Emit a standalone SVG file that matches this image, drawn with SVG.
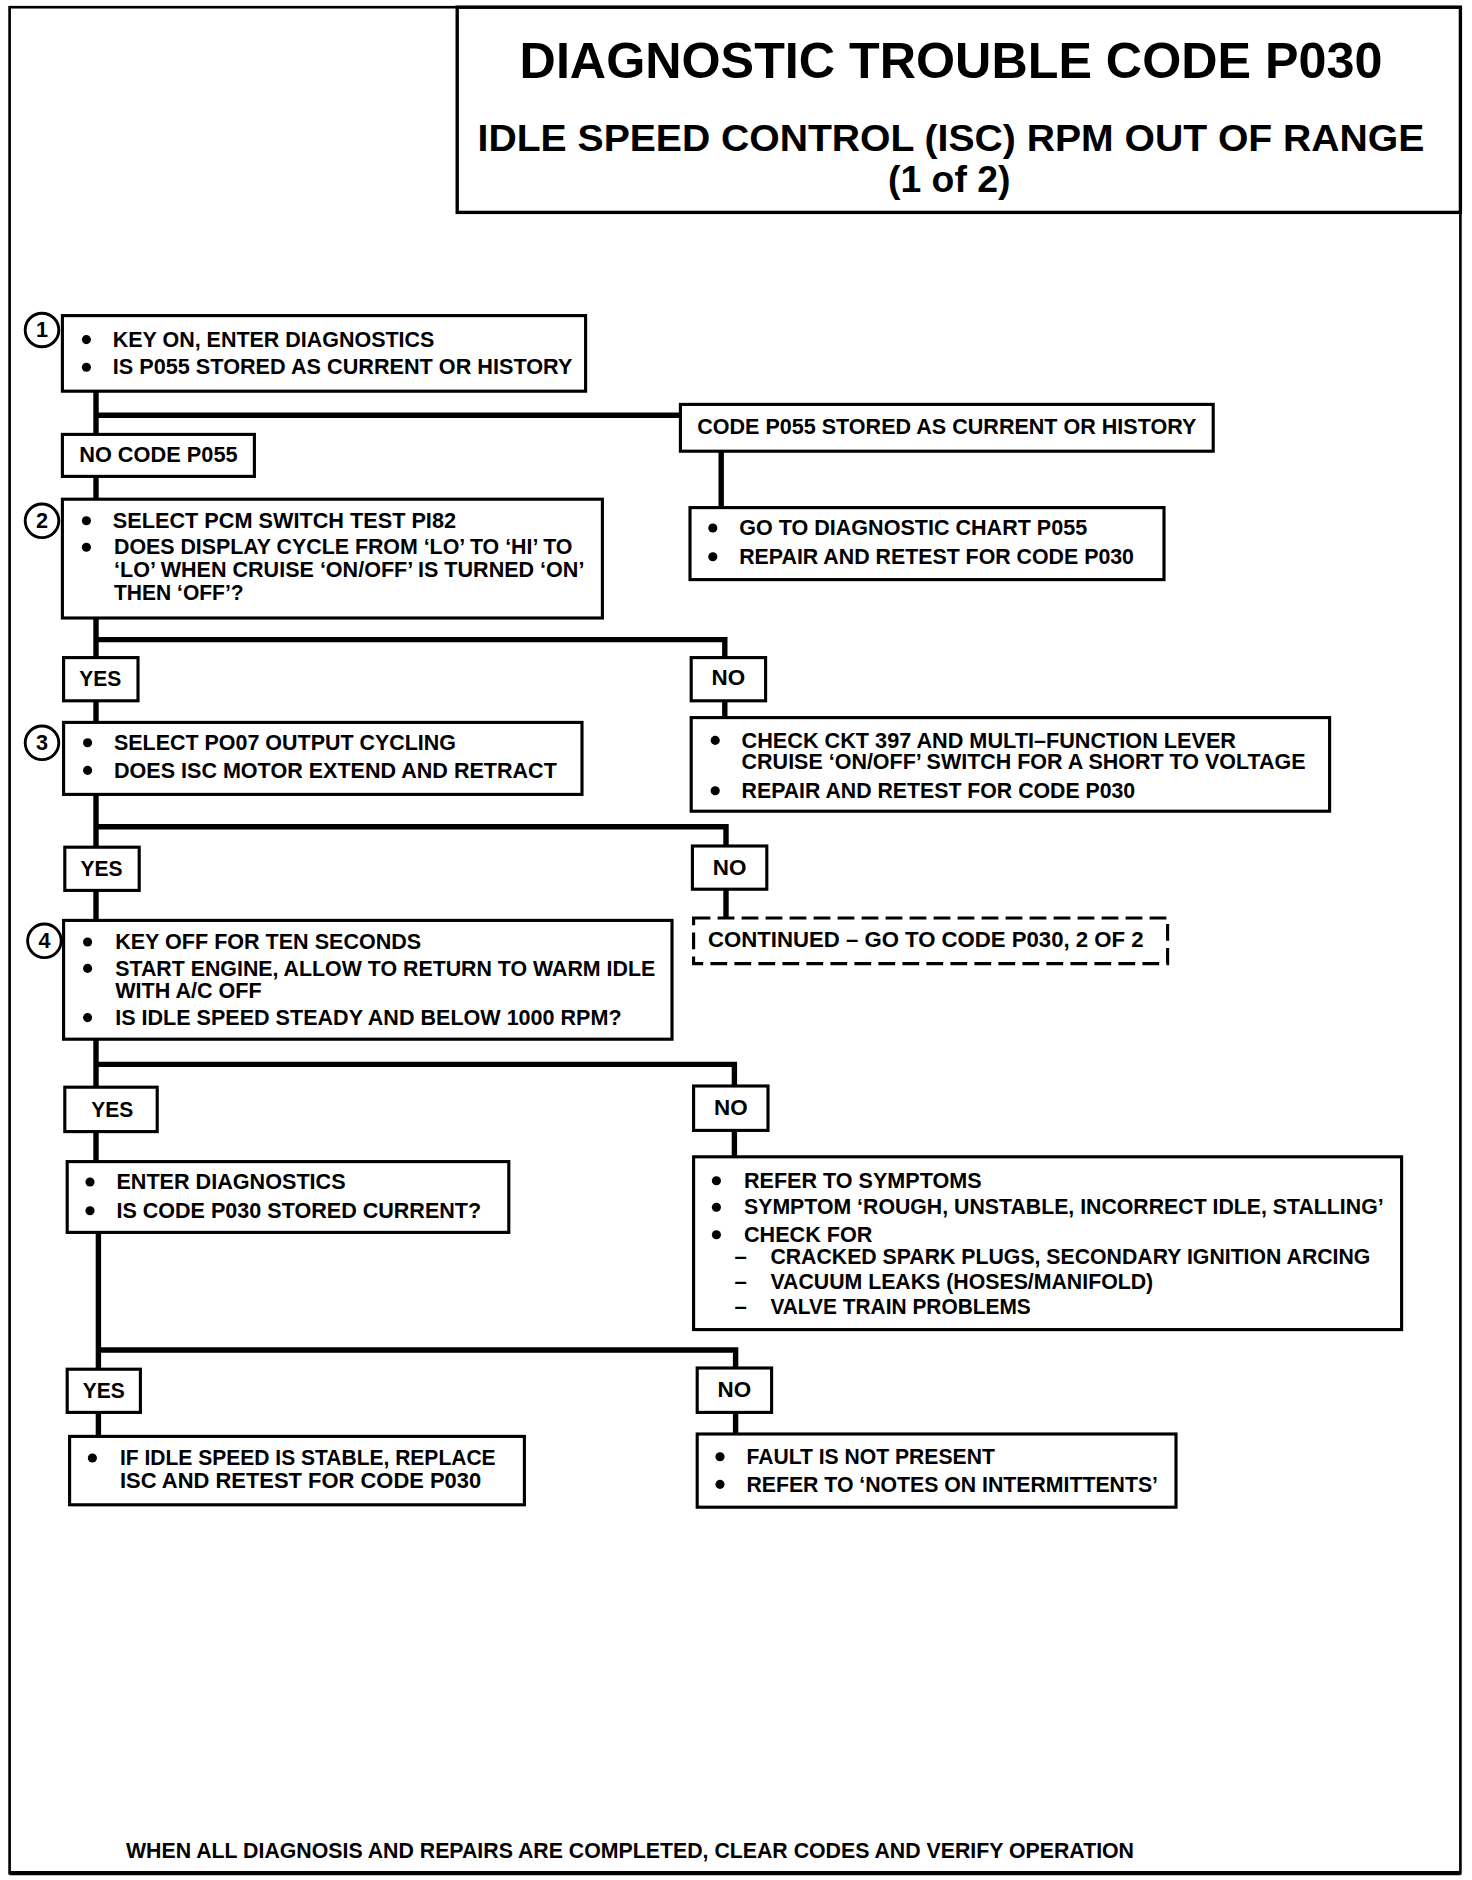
<svg xmlns="http://www.w3.org/2000/svg" width="1472" height="1880" viewBox="0 0 1472 1880">
<style>
.bg{fill:#fff}
.frame{fill:none;stroke:#000;stroke-width:2.2}
.box{fill:#fff;stroke:#000;stroke-width:2.6}
.dash{fill:#fff;stroke:#000;stroke-width:2.6;stroke-dasharray:14 6}
.conn{fill:none;stroke:#000;stroke-width:4.5;stroke-linejoin:miter}
.t{font-family:"Liberation Sans",Arial,sans-serif;font-weight:bold;font-size:18.5px;fill:#000}
.h1{font-family:"Liberation Sans",Arial,sans-serif;font-weight:bold;font-size:41px;fill:#000}
.h2{font-family:"Liberation Sans",Arial,sans-serif;font-weight:bold;font-size:30px;fill:#000}
.num{font-family:"Liberation Sans",Arial,sans-serif;font-weight:bold;font-size:18px;fill:#000;text-anchor:middle}
.bul{fill:#000}
.circ{fill:#fff;stroke:#000;stroke-width:2.4}
</style>
<rect class="bg" x="0" y="0" width="1472" height="1880"/>
<g transform="scale(1.2)">
  <g id="frame">
    <rect class="frame" x="8" y="6" width="1209" height="1555"/>
    <line x1="8" y1="1561" x2="1217" y2="1561" stroke="#000" stroke-width="3.5"/>
  </g>
  <g id="title">
    <rect class="frame" x="381" y="6" width="836" height="171" style="stroke-width:2.8"/>
    <text class="h1" x="433" y="65" textLength="719" lengthAdjust="spacingAndGlyphs">DIAGNOSTIC TROUBLE CODE P030</text>
    <text class="h2" x="398" y="126" textLength="789" lengthAdjust="spacingAndGlyphs">IDLE SPEED CONTROL (ISC) RPM OUT OF RANGE</text>
    <text class="h2" x="740" y="160" textLength="102" lengthAdjust="spacingAndGlyphs">(1 of 2)</text>
  </g>

  <g id="connectors">
    <polyline class="conn" points="80,326 80,362"/>
    <polyline class="conn" points="80,346 567,346"/>
    <polyline class="conn" points="80,397 80,416"/>
    <polyline class="conn" points="601,376 601,423"/>
    <polyline class="conn" points="80,515 80,548"/>
    <polyline class="conn" points="80,533 604,533 604,548"/>
    <polyline class="conn" points="80,584 80,602"/>
    <polyline class="conn" points="604,584 604,598"/>
    <polyline class="conn" points="80,662 80,706"/>
    <polyline class="conn" points="80,689 605,689 605,705"/>
    <polyline class="conn" points="80,742 80,767"/>
    <polyline class="conn" points="605,741 605,765"/>
    <polyline class="conn" points="80,866 80,906"/>
    <polyline class="conn" points="80,887 612,887 612,905"/>
    <polyline class="conn" points="80,943 80,968"/>
    <polyline class="conn" points="612,942 612,964"/>
    <polyline class="conn" points="82,1027 82,1141"/>
    <polyline class="conn" points="82,1125 613,1125 613,1140"/>
    <polyline class="conn" points="82,1177 82,1197"/>
    <polyline class="conn" points="613,1177 613,1195"/>
  </g>

  <g id="step1">
    <rect class="box" x="52" y="263" width="436" height="63"/>
    <circle class="circ" cx="35" cy="275" r="14"/>
    <text class="num" x="35" y="281">1</text>
    <circle class="bul" cx="72" cy="283" r="3.8"/>
    <text class="t" x="94" y="289" textLength="268" lengthAdjust="spacingAndGlyphs">KEY ON, ENTER DIAGNOSTICS</text>
    <circle class="bul" cx="72" cy="306" r="3.8"/>
    <text class="t" x="94" y="312" textLength="383" lengthAdjust="spacingAndGlyphs">IS  P055 STORED AS CURRENT OR HISTORY</text>
  </g>

  <g id="noCodeP055">
    <rect class="box" x="52" y="362" width="160" height="35"/>
    <text class="t" x="66" y="385" textLength="132" lengthAdjust="spacingAndGlyphs">NO CODE P055</text>
  </g>

  <g id="codeP055Stored">
    <rect class="box" x="567" y="337" width="444" height="39"/>
    <text class="t" x="581" y="362" textLength="416" lengthAdjust="spacingAndGlyphs">CODE P055 STORED AS CURRENT OR HISTORY</text>
  </g>

  <g id="goToP055">
    <rect class="box" x="575" y="423" width="395" height="60"/>
    <circle class="bul" cx="594" cy="440" r="3.8"/>
    <text class="t" x="616" y="446" textLength="290" lengthAdjust="spacingAndGlyphs">GO TO DIAGNOSTIC CHART P055</text>
    <circle class="bul" cx="594" cy="464" r="3.8"/>
    <text class="t" x="616" y="470" textLength="329" lengthAdjust="spacingAndGlyphs">REPAIR AND RETEST FOR CODE P030</text>
  </g>

  <g id="step2">
    <rect class="box" x="52" y="416" width="450" height="99"/>
    <circle class="circ" cx="35" cy="434" r="14"/>
    <text class="num" x="35" y="440">2</text>
    <circle class="bul" cx="72" cy="434" r="3.8"/>
    <text class="t" x="94" y="440" textLength="286" lengthAdjust="spacingAndGlyphs">SELECT PCM SWITCH TEST PI82</text>
    <circle class="bul" cx="72" cy="456" r="3.8"/>
    <text class="t" x="95" y="462" textLength="382" lengthAdjust="spacingAndGlyphs">DOES DISPLAY CYCLE FROM ‘LO’ TO ‘HI’ TO</text>
    <text class="t" x="95" y="481" textLength="392" lengthAdjust="spacingAndGlyphs">‘LO’ WHEN CRUISE ‘ON/OFF’ IS TURNED ‘ON’</text>
    <text class="t" x="95" y="500" textLength="108" lengthAdjust="spacingAndGlyphs">THEN ‘OFF’?</text>
  </g>

  <g id="yes1">
    <rect class="box" x="53" y="548" width="62" height="36"/>
    <text class="t" x="66" y="572" textLength="35" lengthAdjust="spacingAndGlyphs">YES</text>
  </g>
  <g id="no1">
    <rect class="box" x="576" y="548" width="62" height="36"/>
    <text class="t" x="593" y="571" textLength="28" lengthAdjust="spacingAndGlyphs">NO</text>
  </g>

  <g id="step3">
    <rect class="box" x="53" y="602" width="432" height="60"/>
    <circle class="circ" cx="35" cy="619" r="14"/>
    <text class="num" x="35" y="625">3</text>
    <circle class="bul" cx="73" cy="619" r="3.8"/>
    <text class="t" x="95" y="625" textLength="285" lengthAdjust="spacingAndGlyphs">SELECT PO07 OUTPUT CYCLING</text>
    <circle class="bul" cx="73" cy="642" r="3.8"/>
    <text class="t" x="95" y="648" textLength="369" lengthAdjust="spacingAndGlyphs">DOES ISC MOTOR EXTEND AND RETRACT</text>
  </g>

  <g id="checkCkt397">
    <rect class="box" x="576" y="598" width="532" height="78"/>
    <circle class="bul" cx="596" cy="617" r="3.8"/>
    <text class="t" x="618" y="623" textLength="412" lengthAdjust="spacingAndGlyphs">CHECK CKT 397 AND MULTI–FUNCTION LEVER</text>
    <text class="t" x="618" y="641" textLength="470" lengthAdjust="spacingAndGlyphs">CRUISE ‘ON/OFF’ SWITCH FOR A SHORT TO VOLTAGE</text>
    <circle class="bul" cx="596" cy="659" r="3.8"/>
    <text class="t" x="618" y="665" textLength="328" lengthAdjust="spacingAndGlyphs">REPAIR AND RETEST FOR CODE P030</text>
  </g>

  <g id="yes2">
    <rect class="box" x="54" y="706" width="62" height="36"/>
    <text class="t" x="67" y="730" textLength="35" lengthAdjust="spacingAndGlyphs">YES</text>
  </g>
  <g id="no2">
    <rect class="box" x="577" y="705" width="62" height="36"/>
    <text class="t" x="594" y="729" textLength="28" lengthAdjust="spacingAndGlyphs">NO</text>
  </g>

  <g id="step4">
    <rect class="box" x="53" y="767" width="507" height="99"/>
    <circle class="circ" cx="37" cy="784" r="14"/>
    <text class="num" x="37" y="790">4</text>
    <circle class="bul" cx="73" cy="785" r="3.8"/>
    <text class="t" x="96" y="791" textLength="255" lengthAdjust="spacingAndGlyphs">KEY OFF FOR TEN SECONDS</text>
    <circle class="bul" cx="73" cy="807" r="3.8"/>
    <text class="t" x="96" y="813" textLength="450" lengthAdjust="spacingAndGlyphs">START ENGINE, ALLOW TO RETURN TO WARM IDLE</text>
    <text class="t" x="96" y="832" textLength="122" lengthAdjust="spacingAndGlyphs">WITH A/C OFF</text>
    <circle class="bul" cx="73" cy="848" r="3.8"/>
    <text class="t" x="96" y="854" textLength="422" lengthAdjust="spacingAndGlyphs">IS  IDLE SPEED STEADY AND BELOW 1000 RPM?</text>
  </g>

  <g id="continued">
    <rect class="dash" x="578" y="765" width="395" height="38"/>
    <text class="t" x="590" y="789" textLength="363" lengthAdjust="spacingAndGlyphs">CONTINUED – GO TO CODE P030, 2 OF 2</text>
  </g>

  <g id="yes3">
    <rect class="box" x="54" y="906" width="77" height="37"/>
    <text class="t" x="76" y="931" textLength="35" lengthAdjust="spacingAndGlyphs">YES</text>
  </g>
  <g id="no3">
    <rect class="box" x="578" y="905" width="62" height="37"/>
    <text class="t" x="595" y="929" textLength="28" lengthAdjust="spacingAndGlyphs">NO</text>
  </g>

  <g id="enterDiagnostics">
    <rect class="box" x="56" y="968" width="368" height="59"/>
    <circle class="bul" cx="75" cy="985" r="3.8"/>
    <text class="t" x="97" y="991" textLength="191" lengthAdjust="spacingAndGlyphs">ENTER DIAGNOSTICS</text>
    <circle class="bul" cx="75" cy="1009" r="3.8"/>
    <text class="t" x="97" y="1015" textLength="304" lengthAdjust="spacingAndGlyphs">IS CODE P030 STORED CURRENT?</text>
  </g>

  <g id="referSymptoms">
    <rect class="box" x="578" y="964" width="590" height="144"/>
    <circle class="bul" cx="597" cy="984" r="3.8"/>
    <text class="t" x="620" y="990" textLength="198" lengthAdjust="spacingAndGlyphs">REFER TO SYMPTOMS</text>
    <circle class="bul" cx="597" cy="1006" r="3.8"/>
    <text class="t" x="620" y="1012" textLength="533" lengthAdjust="spacingAndGlyphs">SYMPTOM ‘ROUGH, UNSTABLE, INCORRECT IDLE, STALLING’</text>
    <circle class="bul" cx="597" cy="1029" r="3.8"/>
    <text class="t" x="620" y="1035" textLength="107" lengthAdjust="spacingAndGlyphs">CHECK FOR</text>
    <text class="t" x="612" y="1053">–</text>
    <text class="t" x="642" y="1053" textLength="500" lengthAdjust="spacingAndGlyphs">CRACKED SPARK PLUGS, SECONDARY IGNITION ARCING</text>
    <text class="t" x="612" y="1074">–</text>
    <text class="t" x="642" y="1074" textLength="319" lengthAdjust="spacingAndGlyphs">VACUUM LEAKS (HOSES/MANIFOLD)</text>
    <text class="t" x="612" y="1095">–</text>
    <text class="t" x="642" y="1095" textLength="217" lengthAdjust="spacingAndGlyphs">VALVE TRAIN PROBLEMS</text>
  </g>

  <g id="yes4">
    <rect class="box" x="56" y="1141" width="61" height="36"/>
    <text class="t" x="69" y="1165" textLength="35" lengthAdjust="spacingAndGlyphs">YES</text>
  </g>
  <g id="no4">
    <rect class="box" x="581" y="1140" width="62" height="37"/>
    <text class="t" x="598" y="1164" textLength="28" lengthAdjust="spacingAndGlyphs">NO</text>
  </g>

  <g id="replaceIsc">
    <rect class="box" x="58" y="1197" width="379" height="57"/>
    <circle class="bul" cx="77" cy="1215" r="3.8"/>
    <text class="t" x="100" y="1221" textLength="313" lengthAdjust="spacingAndGlyphs">IF IDLE SPEED IS STABLE, REPLACE</text>
    <text class="t" x="100" y="1240" textLength="301" lengthAdjust="spacingAndGlyphs">ISC AND RETEST FOR  CODE P030</text>
  </g>

  <g id="faultNotPresent">
    <rect class="box" x="581" y="1195" width="399" height="61"/>
    <circle class="bul" cx="600" cy="1214" r="3.8"/>
    <text class="t" x="622" y="1220" textLength="207" lengthAdjust="spacingAndGlyphs">FAULT IS NOT PRESENT</text>
    <circle class="bul" cx="600" cy="1237" r="3.8"/>
    <text class="t" x="622" y="1243" textLength="343" lengthAdjust="spacingAndGlyphs">REFER TO ‘NOTES ON INTERMITTENTS’</text>
  </g>

  <g id="footer">
    <text class="t" x="105" y="1548" textLength="840" lengthAdjust="spacingAndGlyphs">WHEN ALL DIAGNOSIS AND REPAIRS ARE COMPLETED, CLEAR CODES AND VERIFY OPERATION</text>
  </g>
</g>
</svg>
